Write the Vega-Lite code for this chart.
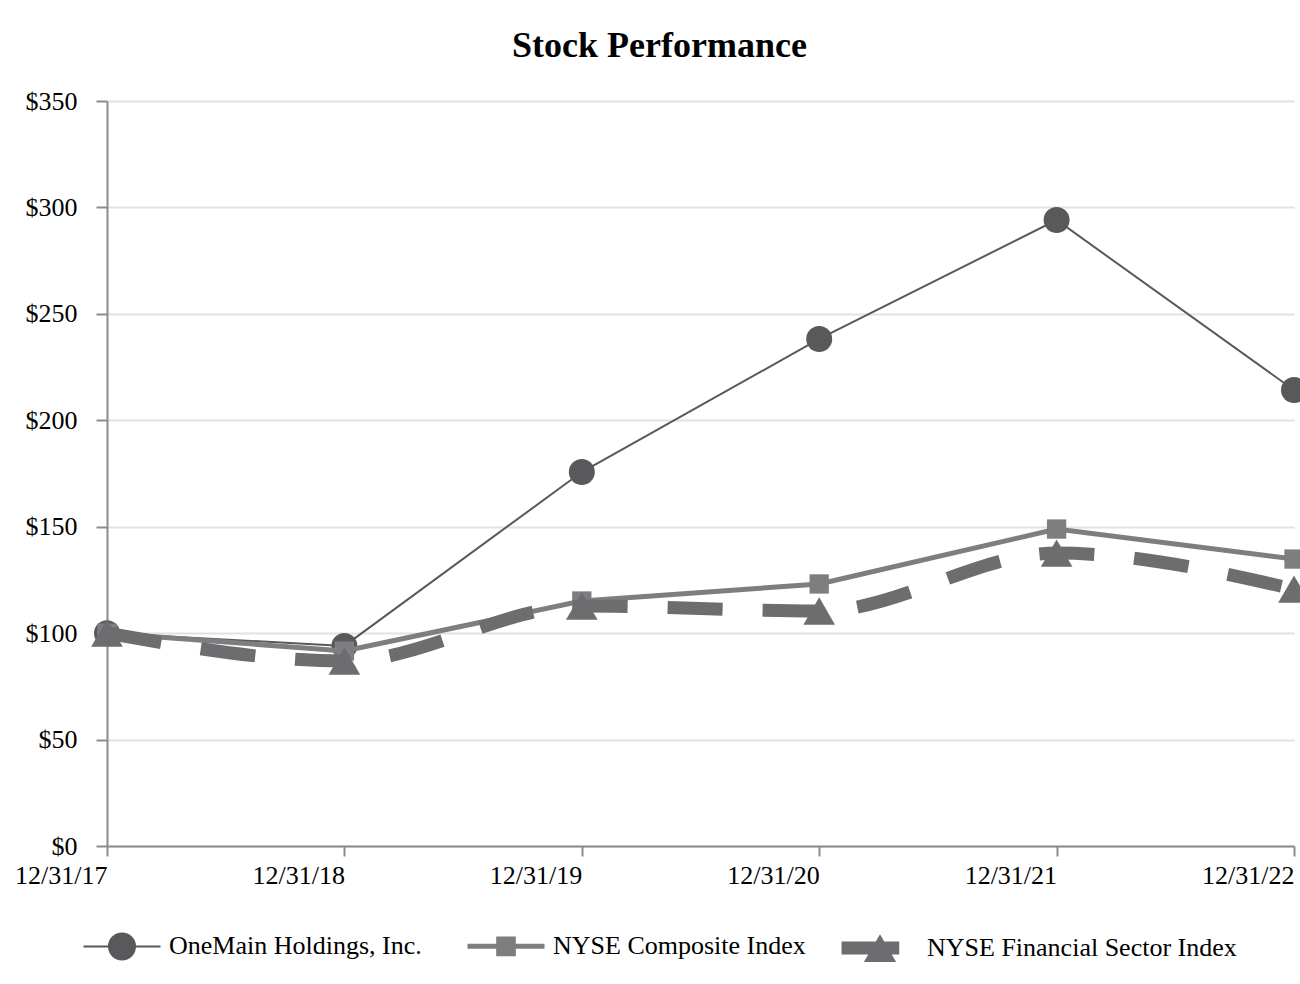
{
  "$schema": "https://vega.github.io/schema/vega-lite/v6.json",
  "autosize": {"type": "none"},
  "padding": {"left": 107, "top": 101, "right": 6, "bottom": 138},
  "width": 1187,
  "height": 745,
  "background": "white",
  "title": {
    "text": "Stock Performance",
    "font": "Liberation Serif",
    "fontSize": 36,
    "fontWeight": "bold",
    "color": "black",
    "anchor": "middle",
    "frame": "group",
    "dx": -41,
    "baseline": "alphabetic",
    "offset": -5
  },
  "config": {
    "view": {"stroke": null},
    "axis": {
      "labelFont": "Liberation Serif",
      "labelFontSize": 26,
      "labelColor": "black",
      "domainColor": "#8c8c8c",
      "domainWidth": 2,
      "tickColor": "#8c8c8c",
      "tickWidth": 2,
      "gridColor": "#e2e2e2",
      "gridWidth": 2
    }
  },
  "data": {
    "values": [
      {"date": "12/31/17", "series": "OneMain Holdings, Inc.", "value": 100},
      {"date": "12/31/18", "series": "OneMain Holdings, Inc.", "value": 94.0},
      {"date": "12/31/19", "series": "OneMain Holdings, Inc.", "value": 175.7},
      {"date": "12/31/20", "series": "OneMain Holdings, Inc.", "value": 238.2},
      {"date": "12/31/21", "series": "OneMain Holdings, Inc.", "value": 294.1},
      {"date": "12/31/22", "series": "OneMain Holdings, Inc.", "value": 214.2},
      {"date": "12/31/17", "series": "NYSE Composite Index", "value": 100},
      {"date": "12/31/18", "series": "NYSE Composite Index", "value": 91.6},
      {"date": "12/31/19", "series": "NYSE Composite Index", "value": 115.1},
      {"date": "12/31/20", "series": "NYSE Composite Index", "value": 123.1},
      {"date": "12/31/21", "series": "NYSE Composite Index", "value": 148.9},
      {"date": "12/31/22", "series": "NYSE Composite Index", "value": 134.8},
      {"date": "12/31/17", "series": "NYSE Financial Sector Index", "value": 100},
      {"date": "12/31/18", "series": "NYSE Financial Sector Index", "value": 86.9},
      {"date": "12/31/19", "series": "NYSE Financial Sector Index", "value": 112.7},
      {"date": "12/31/20", "series": "NYSE Financial Sector Index", "value": 110.4},
      {"date": "12/31/21", "series": "NYSE Financial Sector Index", "value": 137.6},
      {"date": "12/31/22", "series": "NYSE Financial Sector Index", "value": 120.7}
    ]
  },
  "encoding": {
    "x": {
      "field": "date",
      "type": "ordinal",
      "scale": {"type": "point", "padding": 0},
      "axis": {
        "title": null,
        "labelAngle": 0,
        "labelAlign": "right",
        "labelBaseline": "top",
        "labelPadding": 6,
        "labelDx": 2,
        "tickSize": 10,
        "grid": false
      }
    },
    "y": {
      "field": "value",
      "type": "quantitative",
      "scale": {"domain": [0, 350], "nice": false},
      "axis": {
        "title": null,
        "values": [0, 50, 100, 150, 200, 250, 300, 350],
        "format": "$,.0f",
        "tickSize": 11,
        "labelPadding": 19,
        "grid": true
      }
    }
  },
  "layer": [
    {
      "transform": [{"filter": "datum.series === 'OneMain Holdings, Inc.'"}],
      "mark": {"type": "line", "strokeWidth": 2},
      "encoding": {
        "color": {
          "field": "series",
          "type": "nominal",
          "scale": {
            "domain": ["OneMain Holdings, Inc.", "NYSE Composite Index", "NYSE Financial Sector Index"],
            "range": ["#59595b", "#7e7e81", "#6d6d70"]
          },
          "legend": {
            "orient": "none",
            "legendX": 2,
            "legendY": 832,
            "direction": "horizontal",
            "title": null,
            "padding": 0,
            "symbolSize": 5929,
            "labelFont": "Liberation Serif",
            "labelFontSize": 26,
            "labelColor": "black",
            "labelLimit": 0,
            "labelOffset": 34,
            "columnPadding": 35,
            "encode": {
              "symbols": {
                "update": {
                  "shape": {"signal": "datum.value === 'OneMain Holdings, Inc.' ? 'M-1,0H-0.34M0.34,0H1M0.338,0A0.338,0.338,0,1,1,-0.338,0A0.338,0.338,0,1,1,0.338,0Z' : datum.value === 'NYSE Composite Index' ? 'M-1,0H1M-0.19,-0.19H0.19V0.19H-0.19Z' : 'M-1,-0.17H0.5V0.17H-1ZM0,-0.36L0.42,0.36H-0.42Z'"},
                  "fill": {"signal": "datum.value === 'OneMain Holdings, Inc.' ? '#59595b' : datum.value === 'NYSE Composite Index' ? '#7e7e81' : '#6d6d70'"},
                  "stroke": {"signal": "datum.value === 'OneMain Holdings, Inc.' ? '#707072' : datum.value === 'NYSE Composite Index' ? '#7e7e81' : '#6d6d70'"},
                  "strokeWidth": {"signal": "datum.value === 'OneMain Holdings, Inc.' ? 2 : datum.value === 'NYSE Composite Index' ? 5 : 0"},
                  "fillOpacity": {"value": 1},
                  "opacity": {"value": 1},
                  "strokeDash": {"value": []}
                }
              }
            }
          }
        }
      }
    },
    {
      "transform": [{"filter": "datum.series === 'OneMain Holdings, Inc.'"}],
      "mark": {"type": "point", "shape": "circle", "filled": true, "size": 676, "color": "#59595b", "opacity": 1}
    },
    {
      "transform": [{"filter": "datum.series === 'NYSE Composite Index'"}],
      "mark": {"type": "line", "strokeWidth": 5},
      "encoding": {"color": {"field": "series", "type": "nominal"}}
    },
    {
      "transform": [{"filter": "datum.series === 'NYSE Composite Index'"}],
      "mark": {"type": "point", "shape": "square", "filled": true, "size": 372, "color": "#7e7e81", "opacity": 1}
    },
    {
      "transform": [{"filter": "datum.series === 'NYSE Financial Sector Index'"}],
      "mark": {"type": "line", "strokeWidth": 13, "strokeDash": [55, 40], "interpolate": "monotone"},
      "encoding": {"color": {"field": "series", "type": "nominal"}}
    },
    {
      "transform": [{"filter": "datum.series === 'NYSE Financial Sector Index'"}],
      "mark": {"type": "point", "shape": "triangle-up", "filled": true, "size": 1000, "color": "#6d6d70", "opacity": 1}
    }
  ]
}
